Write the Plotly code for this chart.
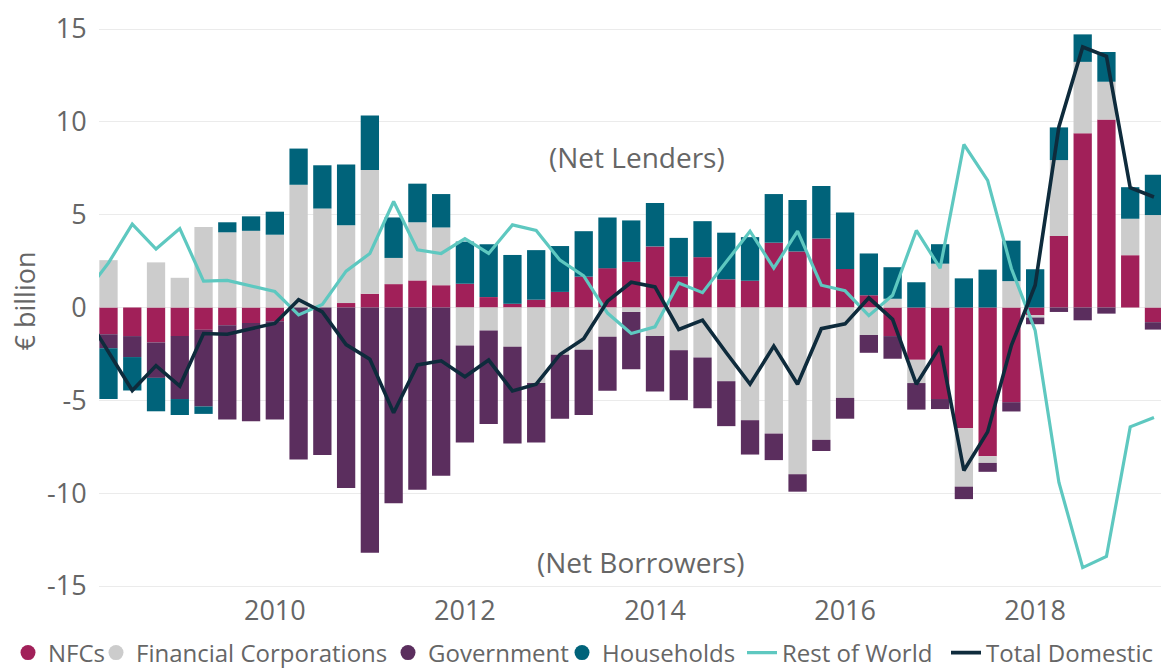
import plotly.graph_objects as go

# ---------------- data ----------------
quarters = [
    "2008Q1", "2008Q2", "2008Q3", "2008Q4", "2009Q1", "2009Q2", "2009Q3", "2009Q4",
    "2010Q1", "2010Q2", "2010Q3", "2010Q4", "2011Q1", "2011Q2", "2011Q3", "2011Q4",
    "2012Q1", "2012Q2", "2012Q3", "2012Q4", "2013Q1", "2013Q2", "2013Q3", "2013Q4",
    "2014Q1", "2014Q2", "2014Q3", "2014Q4", "2015Q1", "2015Q2", "2015Q3", "2015Q4",
    "2016Q1", "2016Q2", "2016Q3", "2016Q4", "2017Q1", "2017Q2", "2017Q3", "2017Q4",
    "2018Q1", "2018Q2", "2018Q3", "2018Q4", "2019Q1", "2019Q2",
]

nfcs = [None, -1.44, -1.54, -1.88, -1.54, -1.20, -0.96, -0.84, -0.74, 0.00, 0.00,
        0.24, 0.74, 1.26, 1.46, 1.20, 1.28, 0.56, 0.20, 0.42, 0.84, 1.66, 2.12,
        2.46, 3.29, 1.66, 2.71, 1.52, 1.44, 3.49, 3.01, 3.71, 2.08, 0.66, -1.54,
        -2.82, -4.93, -6.50, -8.01, -5.10, -0.42, 3.85, 9.39, 10.12, 2.82, -0.79]

financial_corps = [None, 2.55, 0.00, 2.43, 1.60, 4.33, 4.05, 4.13, 3.92, 6.61, 5.33,
                   4.19, 6.67, 1.41, 3.13, 3.11, -2.04, -1.24, -2.12, -4.07, -2.55,
                   -2.28, -1.58, -0.24, -1.54, -2.30, -2.69, -3.97, -6.07, -6.79,
                   -8.98, -7.13, -4.87, -1.48, 0.47, -1.25, 2.36, -3.15, -0.36, 1.42,
                   -0.12, 4.09, 3.84, 2.04, 1.96, 4.98]

government = [None, -0.76, -1.13, -1.91, -3.39, -4.13, -5.07, -5.29, -5.29, -8.18,
              -7.94, -9.72, -13.21, -10.54, -9.82, -9.06, -5.23, -5.03, -5.21, -3.20,
              -3.44, -3.51, -2.91, -3.09, -2.99, -2.69, -2.74, -2.42, -1.85, -1.43,
              -0.94, -0.60, -1.12, -0.96, -1.22, -1.43, -0.54, -0.67, -0.48, -0.50,
              -0.36, -0.24, -0.69, -0.33, 0.00, -0.40]

households = [None, -2.73, -1.80, -1.80, -0.86, -0.40, 0.54, 0.78, 1.24, 1.95, 2.33,
              3.27, 2.93, 2.18, 2.08, 1.80, 2.27, 2.85, 2.63, 2.67, 2.47, 2.45, 2.73,
              2.23, 2.34, 2.09, 1.94, 2.51, 2.35, 2.62, 2.78, 2.84, 3.03, 2.25, 1.70,
              1.36, 1.05, 1.57, 2.04, 2.18, 2.06, 1.76, 1.48, 1.60, 1.70, 2.17]

rest_of_world = [0.72, 2.40, 4.49, 3.15, 4.25, 1.42, 1.46, 1.16, 0.86, -0.40, 0.16,
                 1.96, 2.91, 5.71, 3.11, 2.91, 3.71, 2.91, 4.45, 4.15, 2.55, 1.70,
                 -0.30, -1.40, -1.04, 1.32, 0.80, 2.46, 4.11, 2.12, 4.11, 1.20, 0.90,
                 -0.44, 0.66, 4.15, 2.12, 8.78, 6.85, 2.10, -1.24, -9.42, -14.01,
                 -13.41, -6.43, -5.93]

total_domestic = [-0.33, -2.40, -4.47, -3.13, -4.23, -1.40, -1.44, -1.14, -0.86, 0.42,
                  -0.24, -2.00, -2.79, -5.67, -3.09, -2.87, -3.73, -2.83, -4.49, -4.13,
                  -2.53, -1.68, 0.34, 1.36, 1.11, -1.18, -0.68, -2.44, -4.13, -2.08,
                  -4.13, -1.14, -0.88, 0.52, -0.64, -4.13, -2.08, -8.78, -6.70, -2.04,
                  1.20, 9.74, 14.03, 13.53, 6.45, 5.95]

tick_years = [2010, 2012, 2014, 2016, 2018]
y_ticks = [-15, -10, -5, 0, 5, 10, 15]

# ---------------- styling ----------------
FONT = "Open Sans, sans-serif"
TEXT_GRAY = "#666666"
C_NFC = "#A12059"
C_FC = "#CCCCCC"
C_GOV = "#5B2E5E"
C_HH = "#00637A"
C_ROW = "#5EC8C0"
C_TD = "#0E2B3C"

# quarter label -> decimal year position
x = [int(q[:4]) + (int(q[5]) - 1) / 4 for q in quarters]

L, R, T, B = 99, 0, 10, 78
W, H = 1161, 670
PW = W - L - R
PH = H - T - B


def px_to_paper_x(px):
    return (px - L) / PW


def px_to_paper_y(py):
    return (T + PH - py) / PH


fig = go.Figure()

bar_series = [
    ("NFCs", nfcs, C_NFC, "legend"),
    ("Financial Corporations", financial_corps, C_FC, "legend2"),
    ("Government", government, C_GOV, "legend3"),
    ("Households", households, C_HH, "legend4"),
]

for name, vals, col, _ in bar_series:
    fig.add_trace(go.Bar(
        x=x, y=vals, name=name, marker=dict(color=col, line=dict(width=0)),
        showlegend=False,
    ))

# legend-only circle markers for the bar series
for name, vals, col, leg in bar_series:
    fig.add_trace(go.Scatter(
        x=[None], y=[None], mode="markers", name=name, legend=leg,
        marker=dict(color=col, size=15, symbol="circle"),
    ))

fig.add_trace(go.Scatter(
    x=x, y=rest_of_world, name="Rest of World", mode="lines", legend="legend5",
    line=dict(color=C_ROW, width=3.2),
))
fig.add_trace(go.Scatter(
    x=x, y=total_domestic, name="Total Domestic", mode="lines", legend="legend6",
    line=dict(color=C_TD, width=3.6),
))

# legends: one per entry so each sits where it does in the reference
leg_left_px = [8, 96, 388, 562, 742, 946]
leg_y = px_to_paper_y(653)
legend_common = dict(
    orientation="h", xanchor="left", yanchor="middle", y=leg_y,
    bgcolor="rgba(0,0,0,0)", borderwidth=0,
    font=dict(family=FONT, size=24, color=TEXT_GRAY),
    itemwidth=30,
)
legend_layout = {}
for i, px in enumerate(leg_left_px):
    key = "legend" if i == 0 else f"legend{i + 1}"
    legend_layout[key] = dict(legend_common, x=px_to_paper_x(px))

# y range to put 15 at y=29 px and -15 at y=586 px
ppu = (586 - 29) / 30.0
zero_px = 307.5
y_top = (zero_px - T) / ppu
y_bot = -((T + PH) - zero_px) / ppu

fig.update_layout(
    width=W, height=H,
    margin=dict(l=L, r=R, t=T, b=B, autoexpand=False),
    paper_bgcolor="white", plot_bgcolor="white",
    barmode="relative", bargap=0.23,
    font=dict(family=FONT, color=TEXT_GRAY),
    showlegend=True,
    xaxis=dict(
        range=[2008.15, 2019.324], tickvals=tick_years,
        ticktext=[str(t) for t in tick_years],
        showgrid=False, zeroline=False, showline=False,
        ticks="",
        tickfont=dict(family=FONT, size=27, color=TEXT_GRAY),
    ),
    yaxis=dict(
        range=[y_bot, y_top], tickvals=y_ticks,
        ticktext=[str(t) for t in y_ticks],
        showgrid=True, gridcolor="#EBEBEB", gridwidth=1,
        zeroline=False, showline=False,
        ticks="outside", ticklen=6, tickcolor="rgba(0,0,0,0)",
        tickfont=dict(family=FONT, size=27, color=TEXT_GRAY),
        title=dict(text="€ billion", standoff=3,
                   font=dict(family=FONT, size=27, color=TEXT_GRAY)),
    ),
    annotations=[
        dict(text="(Net Lenders)", x=2013.81, y=8.1, xref="x", yref="y",
             showarrow=False, font=dict(family=FONT, size=28, color=TEXT_GRAY)),
        dict(text="(Net Borrowers)", x=2013.85, y=-13.7, xref="x", yref="y",
             showarrow=False, font=dict(family=FONT, size=28, color=TEXT_GRAY)),
    ],
    **legend_layout,
)

fig.write_html(
    "out.html",
    config={"displayModeBar": False},
    post_script="document.body.style.margin='0';document.body.style.overflow='hidden';",
)
